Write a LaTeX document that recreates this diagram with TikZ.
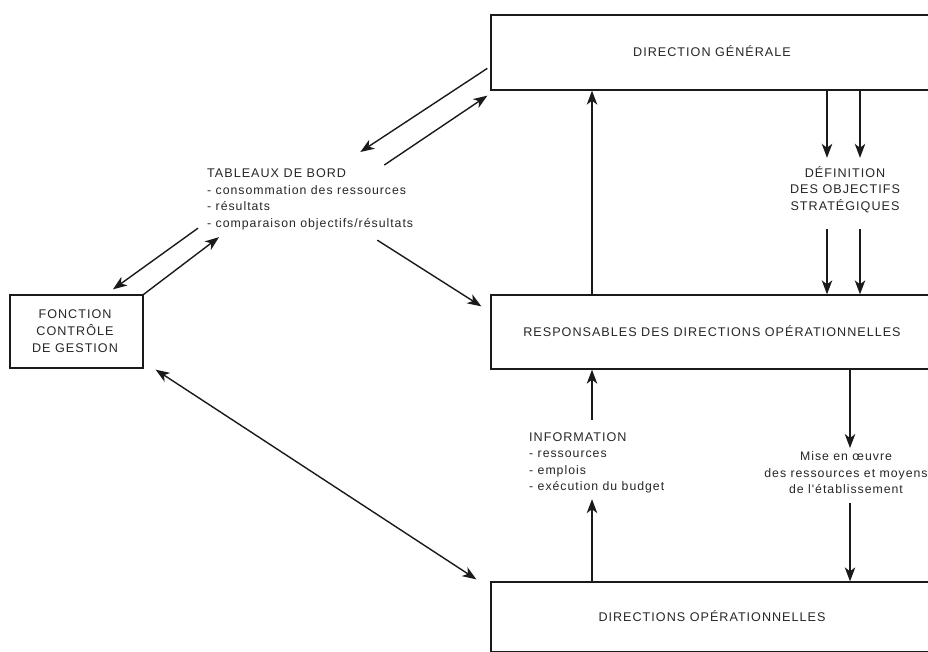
\documentclass[tikz,border=0pt]{standalone}
\usepackage{fontspec}
\setmainfont{Liberation Sans}
\newfontfamily\lblfont[LetterSpace=8]{Liberation Sans}
\usetikzlibrary{arrows.meta,calc}

\definecolor{ink}{HTML}{1A1A1A}
\definecolor{txt}{HTML}{262626}

\begin{document}
\begin{tikzpicture}[x=1pt,y=-1pt,
  lbl/.style={font=\lblfont\fontsize{12.3}{16.5}\selectfont, text=txt, inner sep=0pt},
  box/.style={draw=ink, line width=1.3pt, inner sep=0pt, text height=8.9pt, text depth=0pt,
              font=\lblfont\fontsize{12.6}{16.5}\selectfont, text=txt},
  tip/.tip={Stealth[length=14pt,width=10.5pt,inset=4pt]},
  arr/.style={draw=ink, line width=1.4pt, -tip},
  dblarr/.style={draw=ink, line width=1.4pt, tip-tip}
]
\useasboundingbox (0,0) rectangle (928,651);
\clip (0,0) rectangle (928,651);

% main boxes (they run past the right edge)
\node[box, minimum width=442pt, minimum height=75pt] (dg) at (712,52.5) {DIRECTION GÉNÉRALE};
\node[box, minimum width=442pt, minimum height=74pt] (rdo) at (712,332) {RESPONSABLES DES DIRECTIONS OPÉRATIONNELLES};
\node[box, minimum width=442pt, minimum height=70pt] (do) at (712,617) {DIRECTIONS OPÉRATIONNELLES};

% control box
\node[draw=ink, line width=1.3pt, minimum width=133pt, minimum height=73pt, inner sep=0pt] (fcg) at (76.5,331.5) {};
\node[lbl, align=center, anchor=north, font=\lblfont\fontsize{12.6}{17}\selectfont] (fcgtxt) at (75,309.2)
  {FONCTION\\CONTRÔLE\\DE GESTION};

% free labels
\node[lbl, align=left, anchor=north west] (tb) at (207,168.5)
  {\fontsize{12.6}{16.5}\selectfont TABLEAUX DE BORD\\- consommation des ressources\\- résultats\\- comparaison objectifs/résultats};
\node[lbl, align=center, anchor=north, font=\lblfont\fontsize{12.6}{16.5}\selectfont] (def) at (845,166.3)
  {DÉFINITION\\DES OBJECTIFS\\STRATÉGIQUES};
\node[lbl, align=left, anchor=north west] (info) at (529,432.4)
  {\fontsize{12.6}{16.5}\selectfont INFORMATION\\- ressources\\- emplois\\- exécution du budget};
\node[lbl, align=center, anchor=north] (mise) at (846,451.7)
  {Mise en œuvre\\des ressources et moyens\\de l'établissement};

% vertical positions of the straight connectors
\coordinate (xa) at (827,0);
\coordinate (xb) at (860,0);
\coordinate (xu) at (592,0);
\coordinate (xd) at (850,0);

% strategic objectives
\draw[arr] (dg.south -| xa) -- ($(def.north -| xa)+(0,-8.5)$);
\draw[arr] (dg.south -| xb) -- ($(def.north -| xb)+(0,-8.5)$);
\draw[arr] ($(def.south -| xa)+(0,16)$) -- (rdo.north -| xa);
\draw[arr] ($(def.south -| xb)+(0,16)$) -- (rdo.north -| xb);

% reporting upwards
\draw[arr] (rdo.north -| xu) -- (dg.south -| xu);
\draw[arr] ($(info.north -| xu)+(0,-12.5)$) -- (rdo.south -| xu);
\draw[arr] (do.north -| xu) -- ($(info.south -| xu)+(0,5.5)$);

% implementation downwards
\draw[arr] (rdo.south -| xd) -- ($(mise.north -| xd)+(0,-3.7)$);
\draw[arr] ($(mise.south -| xd)+(0,8.5)$) -- (do.north -| xd);

% dashboards
\draw[arr] ($(dg.north west)+(-3,54)$) -- ($(tb.north east)+(-53,-16.5)$);
\draw[arr] ($(tb.north east)+(-29,-3.5)$) -- ($(dg.south west)+(-3,5)$);
\draw[arr] ($(tb.south west)+(-9,-1.6)$) -- ($(fcg.north)+(36.5,-5)$);
\draw[arr] (fcg.north east) -- ($(tb.south west)+(12,7.4)$);
\draw[arr] ($(tb.south east)+(-36,10.4)$) -- ($(rdo.north west)+(-9,12)$);

% control <-> operational directions
\draw[dblarr] ($(fcg.south east)+(12,1)$) -- ($(do.north west)+(-14,-2)$);
\end{tikzpicture}
\end{document}
